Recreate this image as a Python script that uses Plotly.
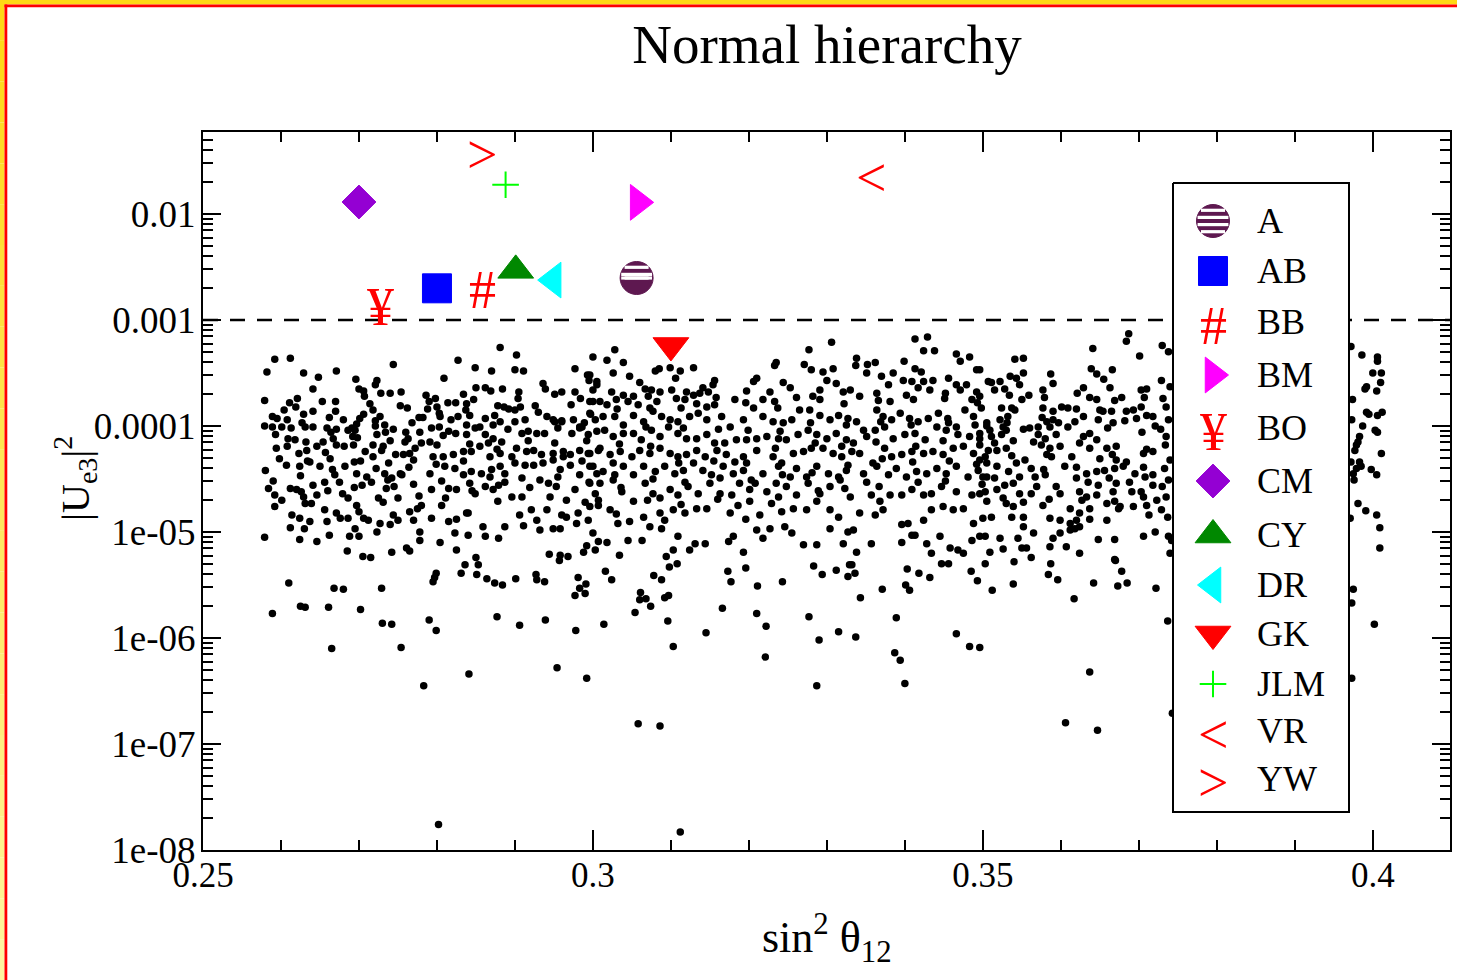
import math
import plotly.graph_objects as go

# ---------------- data ----------------
models = ["A", "AB", "BB", "BM", "BO", "CM", "CY", "DR", "GK", "JLM", "VR", "YW"]
model_sin2 = [0.3056, 0.2800, 0.2858, 0.3058, 0.2727, 0.2700, 0.2901, 0.2949, 0.3100, 0.2888, 0.3356, 0.2858]
model_ue3 = [0.00249, 0.00199, 0.00209, 0.01288, 0.00144, 0.01298, 0.00294, 0.00238, 0.000575, 0.0189, 0.0237, 0.0395]

# scan points: (sin^2 theta12, log10 |Ue3|^2)
dots_band_left = [
(0.2881,-3.26),(0.2902,-3.33),(0.2592,-3.37),(0.2612,-3.36),(0.2827,-3.38),(0.2744,-3.42),(0.2849,-3.45),(0.2900,-3.47),(0.2582,-3.49),(0.2629,-3.50),
(0.2671,-3.48),(0.2870,-3.48),(0.2911,-3.48),(0.2977,-3.46),(0.2993,-3.52),(0.2995,-3.57),(0.3005,-3.58),(0.2648,-3.54),(0.2696,-3.56),(0.2723,-3.57),
(0.2721,-3.61),(0.2809,-3.55),(0.2641,-3.65),(0.2700,-3.65),(0.2706,-3.67),(0.2707,-3.72),(0.2728,-3.69),(0.2740,-3.69),(0.2754,-3.68),(0.2884,-3.65),
(0.2905,-3.68),(0.2850,-3.64),(0.2862,-3.64),(0.2869,-3.67),(0.2834,-3.70),(0.2936,-3.60),(0.2939,-3.65),(0.2951,-3.70),(0.2960,-3.68),(0.2977,-3.68),
(0.2984,-3.74),(0.3000,-3.66),(0.2904,-3.74),(0.2579,-3.76),(0.2611,-3.78),(0.2621,-3.74),(0.2653,-3.77),(0.2670,-3.77),(0.2786,-3.71),(0.2798,-3.74),
(0.2790,-3.77),(0.2814,-3.78),(0.2824,-3.78),(0.2838,-3.79),(0.2847,-3.75),(0.2753,-3.81),(0.2762,-3.83),(0.2714,-3.79),(0.2718,-3.85),(0.2604,-3.85),
(0.2619,-3.82),(0.2641,-3.86),(0.2670,-3.86),(0.2589,-3.91),(0.2608,-3.94),(0.2629,-3.89),(0.2680,-3.94),(0.2701,-3.93),(0.2697,-3.98),(0.2691,-4.02),
(0.2727,-3.91),(0.2721,-3.95),(0.2777,-3.92),(0.2782,-3.92),(0.2788,-3.84),(0.2800,-3.82),(0.2804,-3.91),(0.2818,-3.94),(0.2827,-3.91),(0.2842,-3.90),
(0.2837,-3.85),(0.2862,-3.93),(0.2878,-3.81),(0.2886,-3.82),(0.2892,-3.84),(0.2900,-3.85),(0.2907,-3.82),(0.2926,-3.81),(0.2930,-3.87),(0.2941,-3.91),
(0.2949,-3.94),(0.2960,-3.95),(0.2972,-3.80),(0.2975,-3.94),(0.2983,-4.02),(0.2997,-3.89),(0.3003,-3.94),(0.2996,-3.77),(0.3009,-3.77),(0.2579,-4.00),
(0.2589,-4.01),(0.2601,-4.01),(0.2613,-4.02),(0.2631,-4.01),(0.2641,-4.01),(0.2659,-4.02),(0.2671,-4.03),(0.2686,-4.04),(0.2695,-4.04),(0.2721,-4.00),
(0.2734,-4.06),(0.2744,-4.03),(0.2760,-4.06),(0.2763,-4.12),(0.2778,-4.06),(0.2793,-4.02),(0.2803,-4.01),(0.2815,-4.05),(0.2824,-4.07),(0.2838,-4.08),
(0.2849,-4.02),(0.2855,-4.01),(0.2862,-4.08),(0.2872,-3.99),(0.2881,-3.96),(0.2891,-4.03),(0.2900,-3.96),(0.2909,-4.07),(0.2917,-4.05),(0.2928,-4.07),
(0.2938,-4.07),(0.2951,-3.96),(0.2960,-3.96),(0.2973,-4.07),(0.2983,-4.01),(0.2994,-4.08),(0.2986,-4.01),
(0.2594,-4.21),(0.2609,-4.12),(0.2618,-4.13),(0.2608,-4.19),(0.2623,-4.26),(0.2633,-4.23),(0.2646,-4.19),(0.2654,-4.15),(0.2667,-4.12),(0.2671,-4.18),
(0.2681,-4.19),(0.2693,-4.18),(0.2692,-4.10),(0.2718,-4.18),(0.2723,-4.08),(0.2731,-4.19),(0.2708,-4.24),(0.2718,-4.29),(0.2747,-4.27),(0.2757,-4.27),
(0.2765,-4.26),(0.2759,-4.15),(0.2780,-4.16),(0.2791,-4.15),(0.2800,-4.18),(0.2795,-4.29),(0.2808,-4.29),(0.2821,-4.27),(0.2834,-4.24),(0.2844,-4.24),
(0.2855,-4.19),(0.2866,-4.16),(0.2872,-4.12),(0.2883,-4.15),(0.2881,-4.26),(0.2896,-4.29),(0.2902,-4.21),(0.2915,-4.24),(0.2924,-4.23),(0.2934,-4.27),
(0.2949,-4.26),(0.2962,-4.24),(0.2971,-4.27),(0.2983,-4.23),(0.2994,-4.26),(0.3007,-4.23),(0.2580,-4.42),(0.2607,-4.37),(0.2624,-4.38),(0.2637,-4.34),
(0.2650,-4.38),(0.2663,-4.31),(0.2669,-4.46),(0.2682,-4.38),(0.2694,-4.34),(0.2697,-4.45),(0.2710,-4.48),(0.2722,-4.40),(0.2733,-4.45),(0.2738,-4.35),
(0.2753,-4.45),(0.2770,-4.32),(0.2791,-4.45),(0.2810,-4.38),(0.2823,-4.40),(0.2834,-4.46),(0.2844,-4.43),(0.2857,-4.45),(0.2868,-4.48),(0.2881,-4.38),
(0.2887,-4.45),(0.2900,-4.35),(0.2913,-4.37),(0.2924,-4.37),(0.2936,-4.35),(0.2949,-4.32),(0.2962,-4.29),(0.2971,-4.37),(0.2983,-4.46),(0.2996,-4.38),
(0.3005,-4.45),
(0.2584,-4.59),(0.2592,-4.65),(0.2612,-4.59),(0.2620,-4.60),(0.2626,-4.62),(0.2641,-4.56),(0.2646,-4.65),(0.2656,-4.53),(0.2675,-4.53),(0.2679,-4.64),
(0.2686,-4.68),(0.2704,-4.56),(0.2697,-4.75),(0.2716,-4.53),(0.2725,-4.68),(0.2735,-4.59),(0.2742,-4.49),(0.2750,-4.68),(0.2745,-4.57),(0.2755,-4.46),
(0.2765,-4.81),(0.2777,-4.66),(0.2780,-4.75),(0.2793,-4.60),(0.2815,-4.59),(0.2825,-4.60),(0.2842,-4.54),(0.2849,-4.64),(0.2862,-4.57),(0.2872,-4.60),
(0.2878,-4.71),(0.2887,-4.53),(0.2896,-4.67),(0.2909,-4.67),(0.2932,-4.51),(0.2943,-4.54),(0.2945,-4.67),(0.2955,-4.48),(0.2966,-4.70),(0.2977,-4.60),
(0.2996,-4.54),(0.3007,-4.70),(0.2592,-4.76),(0.2614,-4.84),(0.2624,-4.87),(0.2631,-4.73),(0.2639,-4.73),(0.2637,-4.90),(0.2659,-4.90),(0.2656,-4.79),
(0.2671,-4.82),(0.2676,-4.87),(0.2686,-4.87),(0.2695,-4.97),(0.2700,-5.04),(0.2706,-4.87),(0.2712,-4.89),(0.2723,-5.00),(0.2727,-4.92),(0.2740,-4.93),
(0.2744,-4.84),(0.2750,-4.89),(0.2770,-4.89),(0.2778,-5.00),(0.2793,-4.87),(0.2806,-4.75),(0.2815,-4.90),(0.2825,-4.88),(0.2838,-4.82),(0.2823,-5.01),
(0.2840,-5.03),(0.2859,-4.95),(0.2862,-5.04),(0.2879,-5.06),(0.2887,-4.95),(0.2906,-4.84),(0.2911,-4.94),(0.2928,-4.89),(0.2932,-4.98),(0.2941,-4.79),
(0.2949,-4.97),(0.2958,-4.97),(0.2966,-4.86),(0.2981,-4.82),(0.2979,-4.92),(0.2994,-4.89),(0.3000,-5.01),(0.2579,-5.05),(0.2612,-4.96),(0.2624,-5.07),
(0.2630,-4.97),(0.2646,-5.09),(0.2662,-5.03),(0.2685,-5.18),(0.2688,-5.04),(0.2705,-5.23),(0.2715,-5.24),(0.2742,-5.19),(0.2761,-5.15),(0.2765,-5.18),
(0.2778,-5.08),(0.2804,-5.10),(0.2825,-5.17),(0.2850,-5.24),(0.2944,-5.21),(0.2958,-5.22),(0.2968,-5.23),(0.2988,-5.19),(0.2992,-5.13),(0.3007,-5.09),
]

dots_band_mid = [
(0.3306,-3.21),(0.3277,-3.28),(0.3413,-3.18),(0.3429,-3.16),(0.3424,-3.29),(0.3438,-3.29),(0.3028,-3.28),(0.3000,-3.35),(0.3018,-3.38),(0.3039,-3.40),
(0.3466,-3.32),(0.3483,-3.35),(0.3471,-3.39),(0.3338,-3.36),(0.3352,-3.42),(0.3362,-3.40),(0.3337,-3.43),(0.3235,-3.40),(0.3233,-3.43),(0.3271,-3.42),
(0.3280,-3.47),(0.3399,-3.39),(0.3413,-3.46),(0.3421,-3.49),(0.3492,-3.47),(0.3080,-3.48),(0.3085,-3.46),(0.3099,-3.45),(0.3112,-3.48),(0.3129,-3.45),
(0.2996,-3.52),(0.3026,-3.50),(0.3047,-3.53),(0.3060,-3.59),(0.3106,-3.55),(0.3141,-3.64),(0.3156,-3.57),(0.3154,-3.61),(0.3295,-3.49),(0.3308,-3.46),
(0.3300,-3.57),(0.3312,-3.60),(0.3321,-3.68),(0.3351,-3.50),(0.3370,-3.53),(0.3385,-3.50),(0.3398,-3.57),(0.3409,-3.58),(0.3424,-3.58),(0.3436,-3.57),
(0.3456,-3.55),(0.3466,-3.61),(0.3479,-3.61),(0.3492,-3.68),(0.3210,-3.55),(0.3206,-3.58),(0.3197,-3.67),(0.3244,-3.59),(0.3253,-3.64),(0.3218,-3.75),
(0.3227,-3.68),(0.3233,-3.77),(0.3261,-3.73),(0.3291,-3.66),(0.3291,-3.75),(0.3330,-3.66),(0.3342,-3.72),(0.3364,-3.69),(0.3379,-3.61),(0.3381,-3.77),
(0.3402,-3.71),(0.3417,-3.64),(0.3432,-3.66),(0.3451,-3.74),(0.3471,-3.66),(0.3486,-3.75),(0.3507,-3.58),(0.3005,-3.61),(0.3024,-3.68),(0.3039,-3.71),
(0.3052,-3.72),(0.3067,-3.65),(0.3075,-3.66),(0.3086,-3.68),(0.3101,-3.66),(0.3120,-3.68),(0.3129,-3.71),(0.3137,-3.69),(0.3148,-3.68),(0.3000,-3.77),
(0.3018,-3.80),(0.3030,-3.75),(0.3045,-3.77),(0.3058,-3.80),(0.3073,-3.83),(0.3082,-3.77),(0.3107,-3.74),(0.3118,-3.75),(0.3133,-3.79),(0.3146,-3.82),
(0.3156,-3.80),(0.3182,-3.75),
(0.2996,-3.88),(0.3013,-3.91),(0.3028,-3.91),(0.3039,-3.99),(0.3052,-3.90),(0.3065,-3.96),(0.3077,-3.86),(0.3088,-3.91),(0.3099,-3.94),(0.3109,-3.96),
(0.3124,-3.91),(0.3135,-3.88),(0.3146,-3.94),(0.3165,-3.91),(0.3176,-4.01),(0.3193,-3.94),(0.3206,-3.83),(0.3218,-3.91),(0.3231,-3.96),(0.3244,-3.97),
(0.3255,-3.94),(0.3265,-3.85),(0.3278,-3.85),(0.3291,-3.90),(0.3304,-3.94),(0.3315,-3.90),(0.3327,-3.93),(0.3338,-3.96),(0.3347,-4.04),(0.3364,-3.85),
(0.3372,-3.91),(0.3383,-3.94),(0.3394,-3.88),(0.3406,-3.93),(0.3417,-3.96),(0.3430,-3.93),(0.3443,-3.88),(0.3456,-3.97),(0.3466,-4.01),(0.3477,-3.85),
(0.3488,-3.91),(0.3498,-3.83),(0.3505,-3.97),(0.3005,-4.05),(0.3015,-4.04),(0.3026,-4.10),(0.3039,-4.07),(0.3052,-4.07),(0.3062,-4.13),(0.3075,-4.04),
(0.3086,-4.10),(0.3097,-4.01),(0.3109,-4.07),(0.3120,-4.12),(0.3133,-4.12),(0.3146,-4.08),(0.3156,-4.16),(0.3169,-4.16),(0.3184,-4.13),(0.3197,-4.13),
(0.3210,-4.12),(0.3223,-4.10),(0.3238,-4.12),(0.3248,-4.13),(0.3263,-4.08),(0.3276,-4.04),(0.3287,-4.08),(0.3300,-4.12),(0.3312,-4.07),(0.3325,-4.13),
(0.3334,-4.16),(0.3351,-4.10),(0.3362,-4.04),(0.3374,-4.01),(0.3385,-4.12),(0.3400,-4.08),(0.3413,-4.07),(0.3426,-4.13),(0.3441,-4.01),(0.3453,-4.04),
(0.3468,-4.08),(0.3483,-4.10),(0.3496,-4.07),(0.3509,-4.04),(0.2996,-4.26),(0.3009,-4.21),(0.3022,-4.27),(0.3035,-4.24),(0.3050,-4.29),(0.3060,-4.23),
(0.3073,-4.26),(0.3086,-4.21),(0.3099,-4.26),(0.3109,-4.29),(0.3120,-4.27),(0.3133,-4.23),(0.3144,-4.29),(0.3159,-4.23),(0.3171,-4.27),(0.3182,-4.34),
(0.3197,-4.35),(0.3210,-4.23),(0.3231,-4.29),(0.3242,-4.35),(0.3257,-4.26),(0.3270,-4.24),(0.3280,-4.21),(0.3295,-4.21),(0.3308,-4.26),(0.3319,-4.29),
(0.3332,-4.24),(0.3342,-4.26),(0.3359,-4.35),(0.3374,-4.21),(0.3383,-4.29),(0.3396,-4.27),(0.3409,-4.24),(0.3424,-4.26),(0.3436,-4.24),(0.3449,-4.27),
(0.3462,-4.21),(0.3475,-4.19),(0.3488,-4.26),(0.3503,-4.29),(0.3000,-4.38),(0.3013,-4.43),(0.3026,-4.35),(0.3039,-4.38),(0.3052,-4.46),(0.3065,-4.38),
(0.3080,-4.43),(0.3092,-4.38),(0.3105,-4.45),(0.3116,-4.42),(0.3129,-4.35),(0.3141,-4.42),(0.3152,-4.46),(0.3167,-4.38),(0.3180,-4.45),(0.3193,-4.42),
(0.3203,-4.51),(0.3218,-4.45),(0.3238,-4.38),(0.3253,-4.48),(0.3261,-4.40),(0.3274,-4.48),(0.3287,-4.38),(0.3302,-4.45),(0.3315,-4.48),(0.3325,-4.42),
(0.3347,-4.45),(0.3364,-4.38),(0.3379,-4.46),(0.3389,-4.40),(0.3402,-4.48),(0.3415,-4.43),(0.3428,-4.45),(0.3441,-4.40),(0.3453,-4.45),(0.3466,-4.38),
(0.3481,-4.48),(0.3494,-4.42),(0.3505,-4.48),
(0.3003,-4.64),(0.3009,-4.54),(0.3026,-4.51),(0.3037,-4.62),(0.3052,-4.71),(0.3067,-4.54),(0.3077,-4.64),(0.3086,-4.68),(0.3099,-4.60),(0.3109,-4.65),
(0.3122,-4.57),(0.3135,-4.64),(0.3150,-4.54),(0.3163,-4.64),(0.3178,-4.65),(0.3188,-4.54),(0.3208,-4.54),(0.3223,-4.62),(0.3235,-4.54),(0.3248,-4.57),
(0.3261,-4.65),(0.3276,-4.54),(0.3291,-4.64),(0.3304,-4.57),(0.3317,-4.51),(0.3330,-4.67),(0.3351,-4.53),(0.3357,-4.65),(0.3368,-4.71),(0.3381,-4.65),
(0.3396,-4.65),(0.3409,-4.60),(0.3424,-4.65),(0.3434,-4.64),(0.3447,-4.57),(0.3466,-4.62),(0.3486,-4.65),(0.3496,-4.64),(0.2996,-4.76),(0.3007,-4.75),
(0.3022,-4.79),(0.3032,-4.92),(0.3047,-4.90),(0.3065,-4.86),(0.3073,-4.95),(0.3086,-4.82),(0.3092,-4.89),(0.3103,-4.79),(0.3118,-4.82),(0.3133,-4.78),
(0.3146,-4.78),(0.3176,-4.82),(0.3186,-4.75),(0.3201,-4.71),(0.3214,-4.84),(0.3229,-4.73),(0.3242,-4.81),(0.3257,-4.78),(0.3274,-4.79),(0.3287,-4.71),
(0.3304,-4.79),(0.3315,-4.86),(0.3327,-5.00),(0.3342,-4.82),(0.3362,-4.84),(0.3372,-4.79),(0.3396,-4.93),(0.3404,-4.92),(0.3413,-5.03),(0.3424,-4.89),
(0.3434,-4.79),(0.3449,-4.76),(0.3462,-4.79),(0.3475,-4.78),(0.3488,-4.92),(0.3500,-4.87),(0.3003,-5.17),(0.3018,-5.10),(0.3034,-5.22),(0.3045,-5.08),
(0.3063,-5.08),(0.3088,-4.97),(0.3103,-5.17),(0.3109,-5.04),(0.3124,-5.17),(0.3131,-5.11),(0.3144,-5.11),(0.3174,-5.09),(0.3180,-5.04),(0.3193,-5.19),
(0.3210,-4.98),(0.3218,-5.06),(0.3227,-4.97),(0.3246,-4.95),(0.3255,-5.01),(0.3270,-5.12),(0.3287,-5.12),(0.3304,-4.97),(0.3321,-5.11),(0.3334,-4.98),
(0.3338,-5.19),(0.3357,-5.11),(0.3396,-5.10),(0.3409,-5.03),(0.3428,-5.11),(0.3434,-5.20),(0.3445,-5.04),(0.3458,-5.15),(0.3475,-5.20),(0.3486,-5.08),
(0.3496,-5.04),(0.3094,-5.23),(0.3468,-5.17),
]

dots_band_right = [
(0.3687,-3.13),(0.3684,-3.20),(0.3730,-3.24),(0.3641,-3.27),(0.3701,-3.34),(0.3541,-3.37),(0.3552,-3.36),(0.3496,-3.47),(0.3552,-3.50),(0.3587,-3.51),
(0.3535,-3.53),(0.3543,-3.55),(0.3511,-3.59),(0.3522,-3.58),(0.3528,-3.65),(0.3515,-3.66),(0.3547,-3.61),(0.3590,-3.60),(0.3639,-3.46),(0.3646,-3.51),
(0.3655,-3.56),(0.3666,-3.47),(0.3729,-3.57),(0.3740,-3.63),(0.3738,-3.30),(0.3629,-3.64),(0.3577,-3.66),(0.3703,-3.66),(0.3710,-3.65),(0.3550,-3.75),
(0.3559,-3.71),(0.3496,-3.72),(0.3646,-3.75),(0.3650,-3.85),(0.3669,-3.76),(0.3678,-3.73),(0.3637,-3.73),(0.3524,-3.83),(0.3537,-3.83),(0.3541,-3.85),
(0.3577,-3.83),(0.3590,-3.86),(0.3601,-3.82),(0.3609,-3.83),(0.3620,-3.84),(0.3665,-3.86),(0.3684,-3.86),(0.3693,-3.85),(0.3703,-3.82),(0.3710,-3.90),
(0.3532,-3.91),(0.3522,-3.94),(0.3505,-4.00),(0.3526,-4.01),(0.3530,-4.04),(0.3552,-4.03),(0.3560,-4.02),(0.3571,-4.01),(0.3582,-3.96),(0.3590,-3.94),
(0.3586,-4.01),(0.3597,-3.97),(0.3609,-4.01),(0.3629,-3.91),(0.3648,-3.94),(0.3654,-3.86),(0.3667,-3.97),(0.3682,-3.95),(0.3697,-3.93),(0.3718,-3.91),
(0.3721,-4.00),(0.3735,-3.82),(0.3738,-3.94),(0.3496,-4.12),(0.3511,-4.10),(0.3515,-4.16),(0.3524,-4.08),(0.3539,-4.14),(0.3530,-4.21),(0.3518,-4.23),
(0.3507,-4.23),(0.3571,-4.08),(0.3580,-4.12),(0.3594,-4.08),(0.3575,-4.18),(0.3586,-4.21),(0.3599,-4.19),(0.3565,-4.15),(0.3629,-4.10),(0.3637,-4.07),
(0.3646,-4.13),(0.3659,-4.21),(0.3671,-4.19),(0.3637,-4.21),(0.3614,-4.29),(0.3650,-4.31),(0.3671,-4.32),(0.3684,-4.34),(0.3706,-4.26),(0.3718,-4.24),
(0.3735,-4.10),(0.3740,-4.32),(0.3496,-4.32),(0.3505,-4.35),(0.3518,-4.38),(0.3543,-4.35),(0.3554,-4.32),(0.3562,-4.40),(0.3588,-4.29),(0.3605,-4.38),
(0.3633,-4.45),(0.3646,-4.43),(0.3656,-4.42),(0.3669,-4.40),(0.3680,-4.38),(0.3695,-4.45),(0.3708,-4.48),(0.3718,-4.46),(0.3733,-4.40),(0.3500,-4.48),
(0.3515,-4.49),(0.3528,-4.56),(0.3539,-4.54),(0.3547,-4.48),(0.3567,-4.48),(0.3580,-4.46),(0.3594,-4.57),(0.3620,-4.49),(0.3635,-4.53),(0.3648,-4.56),
(0.3671,-4.54),(0.3688,-4.53),(0.3703,-4.62),(0.3718,-4.56),(0.3738,-4.51),(0.3503,-4.62),(0.3518,-4.60),(0.3526,-4.68),(0.3547,-4.64),(0.3562,-4.64),
(0.3569,-4.57),(0.3599,-4.64),(0.3624,-4.62),(0.3633,-4.67),(0.3646,-4.65),(0.3667,-4.62),(0.3691,-4.62),(0.3706,-4.67),(0.3723,-4.70),(0.3735,-4.67),
(0.3505,-4.71),(0.3530,-4.73),(0.3552,-4.72),(0.3577,-4.75),(0.3612,-4.78),(0.3624,-4.82),(0.3637,-4.78),(0.3659,-4.73),(0.3676,-4.76),(0.3693,-4.76),
(0.3710,-4.75),(0.3729,-4.79),(0.3511,-4.86),(0.3537,-4.86),(0.3552,-4.86),(0.3586,-4.87),(0.3599,-4.89),(0.3612,-4.92),(0.3620,-4.89),(0.3637,-4.88),
(0.3659,-4.89),(0.3674,-4.78),(0.3503,-5.04),(0.3522,-5.06),(0.3545,-5.06),(0.3552,-4.95),(0.3565,-5.01),(0.3590,-5.06),(0.3599,-5.01),(0.3612,-4.98),
(0.3618,-4.97),(0.3624,-4.95),(0.3648,-5.07),(0.3669,-5.07),(0.3706,-5.04),(0.3721,-5.00),(0.3738,-5.04),(0.3509,-5.19),(0.3526,-5.16),(0.3550,-5.15),
(0.3556,-5.15),(0.3562,-5.24),(0.3586,-5.14),(0.3607,-5.14),(0.3624,-5.20),(0.3669,-5.26),(0.3742,-5.08),(0.3740,-5.20),
]

dots_core_extra = [
(0.2595,-3.93),(0.2598,-4.31),(0.2590,-4.52),(0.2601,-4.70),(0.2593,-4.08),(0.2627,-3.97),(0.2632,-4.15),(0.2625,-4.47),(0.2629,-4.67),(0.2634,-4.33),
(0.2662,-3.92),(0.2657,-4.25),(0.2666,-4.41),(0.2660,-4.61),(0.2664,-4.06),(0.2698,-4.11),(0.2702,-4.33),(0.2694,-4.58),(0.2700,-4.81),(0.2706,-3.89),
(0.2733,-3.99),(0.2729,-4.23),(0.2737,-4.51),(0.2731,-4.72),(0.2740,-4.14),(0.2768,-3.97),(0.2772,-4.21),(0.2764,-4.39),(0.2770,-4.55),(0.2775,-4.78),
(0.2803,-3.88),(0.2808,-4.09),(0.2799,-4.36),(0.2806,-4.52),(0.2811,-4.68),(0.2838,-3.99),(0.2842,-4.17),(0.2834,-4.33),(0.2845,-4.61),(0.2840,-4.82),
(0.2874,-3.90),(0.2877,-4.22),(0.2870,-4.41),(0.2879,-4.56),(0.2868,-4.29),(0.2913,-3.94),(0.2917,-4.14),(0.2909,-4.49),(0.2919,-4.58),(0.2921,-4.79),
(0.2955,-4.02),(0.2951,-4.16),(0.2958,-4.41),(0.2953,-4.57),(0.2960,-4.84),(0.2989,-3.97),(0.2992,-4.14),(0.2986,-4.33),(0.2995,-4.53),(0.2990,-4.72),
(0.3031,-3.84),(0.3034,-4.17),(0.3028,-4.46),(0.3036,-4.58),(0.3030,-4.83),(0.3071,-3.72),(0.3068,-4.01),(0.3074,-4.19),(0.3077,-4.50),(0.3070,-4.70),
(0.3113,-3.83),(0.3116,-4.02),(0.3110,-4.35),(0.3118,-4.53),(0.3113,-4.74),(0.3158,-3.73),(0.3161,-4.03),(0.3155,-4.33),(0.3163,-4.49),(0.3160,-4.69),
(0.3196,-3.78),(0.3199,-4.04),(0.3193,-4.29),(0.3201,-4.60),(0.3196,-4.88),(0.3237,-3.83),(0.3240,-4.05),(0.3234,-4.21),(0.3243,-4.46),(0.3238,-4.67),
(0.3282,-3.72),(0.3279,-3.97),(0.3285,-4.16),(0.3281,-4.44),(0.3289,-4.61),(0.3322,-3.79),(0.3325,-3.99),(0.3319,-4.19),(0.3327,-4.37),(0.3323,-4.59),
(0.3366,-3.76),(0.3369,-3.96),(0.3363,-4.15),(0.3371,-4.31),(0.3367,-4.57),(0.3411,-3.75),(0.3408,-3.99),(0.3414,-4.19),(0.3410,-4.34),(0.3417,-4.53),
(0.3452,-3.69),(0.3455,-3.93),(0.3449,-4.14),(0.3457,-4.33),(0.3452,-4.52),(0.3493,-3.78),(0.3490,-3.99),(0.3496,-4.18),(0.3492,-4.36),(0.3499,-4.55),
(0.3534,-3.71),(0.3531,-3.97),(0.3537,-4.28),(0.3533,-4.43),(0.3539,-4.76),(0.3579,-3.73),(0.3576,-3.92),(0.3582,-4.27),(0.3578,-4.41),(0.3585,-4.69),
(0.3621,-3.69),(0.3618,-3.96),(0.3624,-4.16),(0.3620,-4.39),(0.3627,-4.70),(0.3663,-3.64),(0.3660,-4.02),(0.3666,-4.27),(0.3662,-4.49),(0.3669,-4.71),
(0.3707,-3.73),(0.3704,-4.06),(0.3710,-4.22),(0.3706,-4.39),(0.3713,-4.84),(0.3731,-3.74),(0.3728,-4.03),(0.3734,-4.18),(0.3730,-4.57),(0.3737,-4.86),
]

dots_edge = [
(0.3972,-3.25),(0.3986,-3.33),(0.4006,-3.35),(0.4006,-3.39),(0.4000,-3.50),(0.4011,-3.50),(0.4010,-3.59),(0.4005,-3.67),(0.3992,-3.63),(0.3990,-3.65),
(0.3974,-3.75),(0.3992,-3.87),(0.3995,-3.89),(0.4006,-3.90),(0.4012,-3.87),(0.3973,-3.94),(0.3987,-4.00),(0.4003,-4.04),(0.4006,-4.06),(0.3983,-4.10),
(0.3979,-4.18),(0.3981,-4.15),(0.4011,-4.26),(0.3977,-4.23),(0.3972,-4.34),(0.3983,-4.34),(0.3985,-4.38),(0.3979,-4.40),(0.3975,-4.45),(0.3976,-4.51),
(0.3998,-4.41),(0.4005,-4.46),(0.3981,-4.73),(0.3991,-4.80),(0.4005,-4.84),(0.4009,-4.96),(0.4009,-5.15),(0.3971,-4.87),
(0.3975,-5.54),(0.3973,-5.67),(0.4002,-5.87),(0.3973,-6.38),
]

dots_tail = [
(0.2589,-5.77),(0.2610,-5.48),(0.2625,-5.70),(0.2631,-5.71),(0.2661,-5.71),(0.2668,-5.53),(0.2680,-5.54),(0.2665,-6.10),(0.2702,-5.73),(0.2729,-5.53),
(0.2730,-5.86),(0.2742,-5.87),(0.2754,-6.09),(0.2783,-6.45),(0.2790,-5.83),(0.2799,-5.93),(0.2802,-7.76),(0.2841,-6.34),(0.2877,-5.80),(0.2906,-5.88),
(0.2939,-5.83),(0.2954,-6.28),(0.2978,-5.93),(0.2992,-6.38),(0.3014,-5.87),(0.3054,-5.76),(0.3058,-6.81),(0.3086,-6.83),(0.3074,-5.70),(0.3096,-5.84),
(0.3103,-6.08),(0.3112,-7.83),(0.3145,-5.95),(0.3166,-5.72),(0.3210,-5.77),(0.3222,-5.89),(0.3221,-6.18),(0.3243,-5.47),(0.3277,-5.80),(0.3290,-6.02),
(0.3287,-6.45),(0.3315,-5.94),(0.3211,-5.51),(0.3097,-5.60),(0.3092,-5.62),(0.2977,-5.60),(0.3061,-5.57),(0.3060,-5.64),(0.3068,-5.63),(0.2983,-5.53),
(0.2990,-5.58),(0.2991,-5.49),(0.2981,-5.43),
(0.2836,-5.31),(0.2831,-5.39),(0.2853,-5.31),(0.2851,-5.40),(0.2797,-5.43),(0.2795,-5.47),(0.2799,-5.39),(0.2864,-5.44),(0.2874,-5.48),(0.2884,-5.50),
(0.2901,-5.44),(0.2927,-5.40),(0.2928,-5.45),(0.2938,-5.47),(0.2957,-5.27),(0.3016,-5.37),(0.3024,-5.45),(0.3078,-5.41),(0.3088,-5.45),(0.3098,-5.33),
(0.3108,-5.30),(0.3173,-5.37),(0.3177,-5.47),(0.3196,-5.34),(0.3283,-5.32),(0.3294,-5.40),(0.3312,-5.36),(0.3327,-5.42),(0.3329,-5.31),
(0.3337,-5.99),(0.3343,-5.62),(0.3371,-5.54),(0.3389,-5.81),(0.3387,-6.14),(0.3394,-6.21),(0.3400,-6.43),(0.3466,-5.96),(0.3483,-6.08),(0.3496,-6.09),
(0.3512,-5.55),(0.3617,-5.63),(0.3637,-6.32),(0.3606,-6.80),(0.3647,-6.87),(0.3722,-5.53),(0.3737,-5.84),(0.3743,-6.71),
(0.3332,-5.31),(0.3336,-5.39),(0.3403,-5.35),(0.3418,-5.39),(0.3432,-5.43),(0.3447,-5.30),(0.3456,-5.30),(0.3485,-5.37),(0.3493,-5.46),(0.3503,-5.30),
(0.3540,-5.28),(0.3539,-5.49),(0.3587,-5.30),(0.3584,-5.40),(0.3596,-5.45),(0.3642,-5.48),(0.3670,-5.27),(0.3678,-5.37),(0.3673,-5.51),(0.3685,-5.48),
(0.3401,-5.50),(0.3406,-5.55),
]

dashed_level = 1e-3
x_range = [0.25, 0.4099]
y_log_range = [-8, -1.2264]
y_ticks = [1e-8, 1e-7, 1e-6, 1e-5, 1e-4, 1e-3, 1e-2]
y_tick_text = ["1e-08", "1e-07", "1e-06", "1e-05", "0.0001", "0.001", "0.01"]
x_ticks = [0.25, 0.3, 0.35, 0.4]
x_tick_text = ["0.25", "0.3", "0.35", "0.4"]

# ---------------- styles ----------------
SERIF = "Liberation Serif, Times New Roman, serif"
GLYPH_SIZE = 54
GLYPH_SHIFT = -4
style = {
    "A":   dict(kind="marker", symbol="circle", size=33, color="#5E1850"),
    "AB":  dict(kind="marker", symbol="square", size=29, color="#0000FF"),
    "BB":  dict(kind="text", glyph="#", color="#FF0000"),
    "BM":  dict(kind="marker", symbol="triangle-right", size=31, color="#FF00FF"),
    "BO":  dict(kind="text", glyph="¥", color="#FF0000"),
    "CM":  dict(kind="marker", symbol="diamond", size=26, color="#9400D3"),
    "CY":  dict(kind="marker", symbol="triangle-up", size=31, color="#008800"),
    "DR":  dict(kind="marker", symbol="triangle-left", size=31, color="#00FFFF"),
    "GK":  dict(kind="marker", symbol="triangle-down", size=31, color="#FF0000"),
    "JLM": dict(kind="cross", symbol="cross-thin", size=19, color="#00FF00"),
    "VR":  dict(kind="text", glyph="<", color="#FF0000"),
    "YW":  dict(kind="text", glyph=">", color="#FF0000"),
}

annotations = []
shapes = []

def add_model(fig, name, x, y, ref="data"):
    """Draw one model mark. ref='data' -> main axes, ref='legend' -> overlay axes / paper."""
    s = style[name]
    xa, ya = ("x", "y") if ref == "data" else ("x2", "y2")
    if s["kind"] == "text":
        annotations.append(dict(text=s["glyph"], showarrow=False,
                                xref="x" if ref == "data" else "paper",
                                yref="y" if ref == "data" else "paper",
                                x=x, y=math.log10(y) if ref == "data" else y,
                                xanchor="center", yanchor="middle", yshift=GLYPH_SHIFT,
                                font=dict(family=SERIF, size=GLYPH_SIZE, color=s["color"])))
        return
    lw = 2 if s["kind"] == "cross" else 1
    fig.add_trace(go.Scatter(x=[x], y=[y], mode="markers",
                             marker=dict(symbol=s["symbol"], size=s["size"], color=s["color"],
                                         line=dict(color=s["color"], width=lw)),
                             xaxis=xa, yaxis=ya, showlegend=False, hoverinfo="skip"))

def stripes(xref, yref, xa, ya):
    out = []
    for dy, half in [(-10.7, 12.0), (-3.6, 15.4), (3.6, 15.4), (10.7, 12.0)]:
        out.append(dict(type="line", xref=xref, yref=yref, xsizemode="pixel", ysizemode="pixel",
                        xanchor=xa, yanchor=ya, x0=-half, x1=half, y0=dy, y1=dy,
                        line=dict(color="white", width=3.2), layer="above"))
    return out

fig = go.Figure()

dots = dots_band_left + dots_band_mid + dots_band_right + dots_core_extra + dots_edge + dots_tail
fig.add_trace(go.Scatter(x=[p[0] for p in dots], y=[10 ** p[1] for p in dots], mode="markers",
                         marker=dict(size=7.5, color="black"), showlegend=False, hoverinfo="skip"))

fig.add_trace(go.Scatter(x=x_range, y=[dashed_level, dashed_level], mode="lines",
                         line=dict(color="black", width=2.5, dash="15px,12px"),
                         showlegend=False, hoverinfo="skip"))

for name, xv, yv in zip(models, model_sin2, model_ue3):
    add_model(fig, name, xv, yv, ref="data")
    if name == "A":
        shapes += stripes("x", "y", xv, yv)

# ---------------- manual legend (overlay axes = plot-area fraction) ----------------
W, H = 1457, 980
ML, MR, MT, MB = 203, 7, 132, 130
PW, PH = W - ML - MR, H - MT - MB
def fx(px):
    return (px - ML) / PW
def fy(py):
    return 1 - (py - MT) / PH

box_l, box_r, box_t, box_b = fx(1173), fx(1349), fy(183), fy(812)
fig.add_trace(go.Scatter(x=[box_l, box_r, box_r, box_l, box_l], y=[box_t, box_t, box_b, box_b, box_t],
                         mode="lines", fill="toself", fillcolor="white",
                         line=dict(color="black", width=2), xaxis="x2", yaxis="y2",
                         showlegend=False, hoverinfo="skip"))
legend_rows_px = [221, 271, 322, 375, 428, 481, 535, 585, 634, 684, 731, 779]
for name, rpx in zip(models, legend_rows_px):
    add_model(fig, name, fx(1213), fy(rpx), ref="legend")
    if name == "A":
        shapes += stripes("paper", "paper", fx(1213), fy(rpx))
    annotations.append(dict(text=name, xref="paper", yref="paper", x=fx(1255), y=fy(rpx),
                            xanchor="left", yanchor="middle", showarrow=False,
                            font=dict(family=SERIF, size=36, color="black")))

# axis titles
annotations.append(dict(text="sin<sup>2</sup> θ<sub>12</sub>", xref="paper", yref="paper",
                        x=fx(827), y=fy(938), xanchor="center", yanchor="middle", showarrow=False,
                        font=dict(family=SERIF, size=44, color="black")))
annotations.append(dict(text="|U<sub>e3</sub>|<sup>2</sup>", xref="paper", yref="paper",
                        x=fx(75), y=fy(479), xanchor="center", yanchor="middle", showarrow=False,
                        textangle=-90, font=dict(family=SERIF, size=40, color="black")))

# page frame (yellow band + red line on top and left)
n_seg = 24
for i in range(n_seg):
    t = i / (n_seg - 1)
    r, g, b = 255, int(216 + (246 - 216) * t), int(20 + (160 - 20) * t)
    shapes.append(dict(type="rect", xref="paper", yref="paper", x0=fx(0), x1=fx(4.5),
                       y0=fy(H * i / n_seg), y1=fy(H * (i + 1) / n_seg),
                       fillcolor=f"rgb({r},{g},{b})", line=dict(width=0), layer="above"))
shapes.append(dict(type="rect", xref="paper", yref="paper", x0=fx(0), x1=fx(W), y0=fy(0), y1=fy(4.5),
                   fillcolor="rgb(255,216,20)", line=dict(width=0), layer="above"))
shapes.append(dict(type="rect", xref="paper", yref="paper", x0=fx(4.5), x1=fx(W), y0=fy(4.5), y1=fy(7.3),
                   fillcolor="#FF0000", line=dict(width=0), layer="above"))
shapes.append(dict(type="rect", xref="paper", yref="paper", x0=fx(4.5), x1=fx(7.3), y0=fy(4.5), y1=fy(H),
                   fillcolor="#FF0000", line=dict(width=0), layer="above"))

x_minor = [0.26, 0.27, 0.28, 0.29, 0.31, 0.32, 0.33, 0.34, 0.36, 0.37, 0.38, 0.39]
y_minor = [k * 10 ** d for d in range(-8, -1) for k in range(2, 10)] + [0.02, 0.03, 0.04, 0.05]

fig.update_layout(
    width=W, height=H, autosize=False,
    margin=dict(l=ML, r=MR, t=MT, b=MB, pad=0),
    paper_bgcolor="white", plot_bgcolor="white",
    showlegend=False,
    title=dict(text="Normal hierarchy", x=fx(827), xref="paper", y=1 - 44 / H, yref="container",
               xanchor="center", yanchor="middle", font=dict(family=SERIF, size=55, color="black")),
    xaxis=dict(range=x_range, tickmode="array", tickvals=x_ticks, ticktext=x_tick_text,
               ticks="inside", ticklen=20, tickwidth=1.5, tickcolor="black",
               showline=True, linecolor="black", linewidth=2, mirror="allticks",
               showgrid=False, zeroline=False, automargin=False, ticklabelstandoff=-7,
               tickfont=dict(family=SERIF, size=35, color="black"),
               minor=dict(tickmode="array", tickvals=x_minor, ticks="inside", ticklen=10,
                          tickwidth=1.5, tickcolor="black", showgrid=False)),
    yaxis=dict(type="log", range=y_log_range, tickmode="array", tickvals=y_ticks, ticktext=y_tick_text,
               ticks="inside", ticklen=18, tickwidth=1.5, tickcolor="black",
               showline=True, linecolor="black", linewidth=2, mirror="allticks",
               showgrid=False, zeroline=False, automargin=False, ticklabelstandoff=-2,
               tickfont=dict(family=SERIF, size=37, color="black"),
               minor=dict(tickmode="array", tickvals=y_minor, ticks="inside", ticklen=10,
                          tickwidth=1.5, tickcolor="black", showgrid=False)),
    xaxis2=dict(overlaying="x", anchor="y2", range=[0, 1], visible=False, fixedrange=True),
    yaxis2=dict(overlaying="y", anchor="x2", range=[0, 1], visible=False, fixedrange=True),
    shapes=shapes,
    annotations=annotations,
)

fig.write_html("out.html", config={"displayModeBar": False},
               post_script="document.body.style.margin='0px';")
